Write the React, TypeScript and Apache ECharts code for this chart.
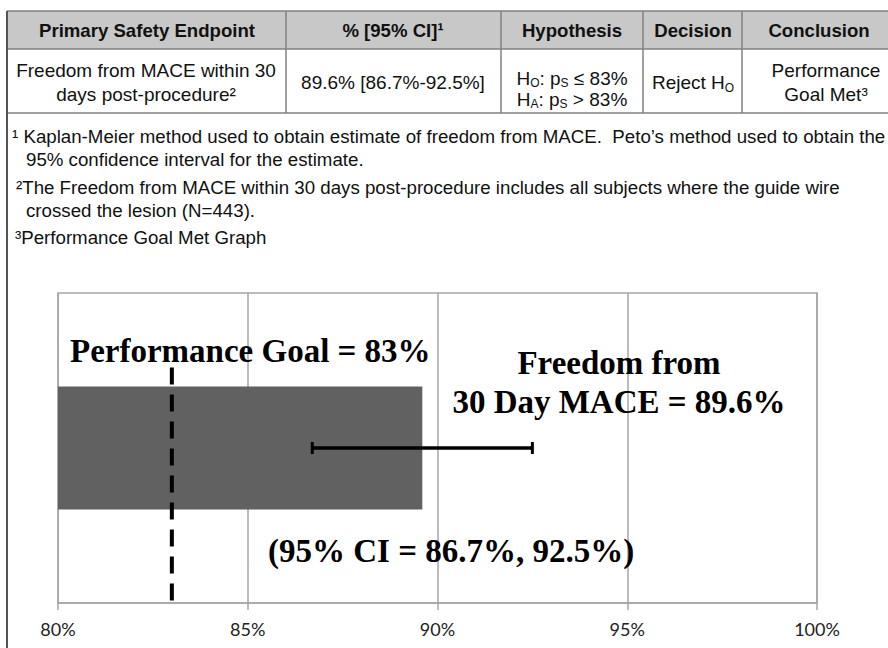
import React, { useEffect, useRef } from "react";
import * as echarts from "echarts";

// ---- data ----
const categories = ["Freedom from 30 Day MACE"];
const estimates = [89.6];
const ciLow = [86.7];
const ciHigh = [92.5];
const performanceGoals = [83];
const axisMin = 80;
const axisMax = 100;
const axisStep = 5;

const tableHeaders = ["Primary Safety Endpoint", "% [95% CI]¹", "Hypothesis", "Decision", "Conclusion"];
const tableRow = [
  "Freedom from MACE within 30\ndays post-procedure²",
  "89.6% [86.7%-92.5%]",
  "H{s|O}: p{s|S} ≤ 83%\nH{s|A}: p{s|S} > 83%",
  "Reject H{s|O}",
  "Performance\nGoal Met³",
];
const footnotes = [
  "¹ Kaplan-Meier method used to obtain estimate of freedom from MACE.  Peto’s method used to obtain the",
  "95% confidence interval for the estimate.",
  "²The Freedom from MACE within 30 days post-procedure includes all subjects where the guide wire",
  "crossed the lesion (N=443).",
  "³Performance Goal Met Graph",
];
const goalLabel = "Performance Goal = 83%";
const estimateLabel = "Freedom from\n30 Day MACE = 89.6%";
const ciLabel = "(95% CI = 86.7%, 92.5%)";

const SANS = "'Liberation Sans', Arial, sans-serif";
const SERIF = "'Liberation Serif', 'Times New Roman', serif";

export default function App() {
  const ref = useRef<HTMLDivElement>(null);
  useEffect(() => {
    if (!ref.current) return;
    const chart = echarts.init(ref.current, null, { renderer: "svg" });

    const colX = [7, 286, 501, 643, 742, 900];
    const headerCenters = [147, 393, 572, 693, 819];
    const rowCenters = [146, 393, 572, 693, 826];
    const lineColor = "#808080";

    const graphics: any[] = [];
    graphics.push({ type: "rect", shape: { x: 7, y: 11, width: 893, height: 38 }, style: { fill: "#c8c8c8" }, z: 1 });
    [11, 49, 113].forEach((y) =>
      graphics.push({ type: "line", shape: { x1: 7, y1: y, x2: 900, y2: y }, style: { stroke: lineColor, lineWidth: 1.5 }, z: 2 })
    );
    colX.slice(1, 5).forEach((x) =>
      graphics.push({ type: "line", shape: { x1: x, y1: 11, x2: x, y2: 113 }, style: { stroke: lineColor, lineWidth: 1.5 }, z: 2 })
    );
    graphics.push({ type: "line", shape: { x1: 7, y1: 11, x2: 7, y2: 648 }, style: { stroke: "#555", lineWidth: 2 }, z: 2 });

    tableHeaders.forEach((h, i) =>
      graphics.push({
        type: "text",
        x: headerCenters[i],
        y: 30,
        z: 3,
        style: { text: h, font: `bold 18.6px ${SANS}`, fill: "#111", align: "center", verticalAlign: "middle" },
      })
    );
    tableRow.forEach((t, i) =>
      graphics.push({
        type: "text",
        x: rowCenters[i],
        y: i === 2 ? 89 : 82,
        z: 3,
        style: {
          text: t,
          fontFamily: SANS,
          fontSize: 19,
          fill: "#111",
          align: "center",
          verticalAlign: "middle",
          lineHeight: i === 2 ? 21 : 24,
          rich: { s: { fontFamily: SANS, fontSize: 12, fill: "#111", verticalAlign: "bottom", lineHeight: 21 } },
        },
      })
    );
    const fnX = [12, 26, 16, 26, 15];
    const fnY = [136, 159, 187, 210, 237];
    footnotes.forEach((t, i) =>
      graphics.push({
        type: "text",
        x: fnX[i],
        y: fnY[i],
        z: 3,
        style: { text: t, fontFamily: SANS, fontSize: 18.7, fill: "#111", align: "left", verticalAlign: "middle" },
      })
    );
    graphics.push({
      type: "text", x: 70, y: 351, z: 100,
      style: { text: goalLabel, font: `bold 33px ${SERIF}`, fill: "#000", align: "left", verticalAlign: "middle" },
    });
    graphics.push({
      type: "text", x: 619, y: 382, z: 100,
      style: { text: estimateLabel, font: `bold 33px ${SERIF}`, fill: "#000", align: "center", verticalAlign: "middle", lineHeight: 39 },
    });
    graphics.push({
      type: "text", x: 268, y: 551, z: 100,
      style: { text: ciLabel, font: `bold 33px ${SERIF}`, fill: "#000", align: "left", verticalAlign: "middle" },
    });

    chart.setOption({
      animation: false,
      backgroundColor: "#fff",
      grid: {
        left: 58, right: 71, top: 293, bottom: 45,
        show: true, borderColor: "#a6a6a6", borderWidth: 1.5, backgroundColor: "transparent",
      },
      xAxis: {
        type: "value",
        min: axisMin,
        max: axisMax,
        interval: axisStep,
        axisLine: { show: true, lineStyle: { color: "#a6a6a6", width: 1.5 } },
        axisTick: { show: true, length: 7, lineStyle: { color: "#a6a6a6", width: 1.5 } },
        splitLine: { show: true, lineStyle: { color: "#a6a6a6", width: 1.5 } },
        axisLabel: { formatter: "{value}%", color: "#222", fontFamily: "Lato, sans-serif", fontSize: 18, margin: 17 },
      },
      yAxis: {
        type: "category",
        data: categories,
        axisLine: { show: false },
        axisTick: { show: false },
        axisLabel: { show: false },
        splitLine: { show: false },
      },
      series: [
        {
          type: "bar",
          data: estimates,
          barWidth: 123,
          itemStyle: { color: "#616161" },
          z: 2,
        },
        {
          type: "custom",
          z: 5,
          data: categories.map((_, i) => [ciLow[i], ciHigh[i], i]),
          encode: { x: [0, 1], y: 2 },
          renderItem: (params: any, api: any) => {
            const lo = api.coord([api.value(0), api.value(2)]);
            const hi = api.coord([api.value(1), api.value(2)]);
            const cap = 6;
            return {
              type: "group",
              children: [
                { type: "line", shape: { x1: lo[0], y1: lo[1], x2: hi[0], y2: hi[1] }, style: { stroke: "#000", lineWidth: 3.5 } },
                { type: "line", shape: { x1: lo[0], y1: lo[1] - cap, x2: lo[0], y2: lo[1] + cap }, style: { stroke: "#000", lineWidth: 3 } },
                { type: "line", shape: { x1: hi[0], y1: hi[1] - cap, x2: hi[0], y2: hi[1] + cap }, style: { stroke: "#000", lineWidth: 3 } },
              ],
            };
          },
        },
        {
          type: "custom",
          z: 6,
          data: categories.map((_, i) => [performanceGoals[i], i]),
          encode: { x: 0, y: 1 },
          renderItem: (params: any, api: any) => {
            const p = api.coord([api.value(0), api.value(1)]);
            const cs = params.coordSys;
            return {
              type: "line",
              shape: { x1: p[0], y1: cs.y + cs.height * 0.24, x2: p[0], y2: cs.y + cs.height + 4 },
              style: { stroke: "#000", lineWidth: 4, lineDash: [17, 10] },
            };
          },
        },
      ],
      graphic: graphics,
    });
    return () => chart.dispose();
  }, []);

  return <div ref={ref} style={{ position: "absolute", left: 0, top: 0, width: 888, height: 648 }} />;
}
